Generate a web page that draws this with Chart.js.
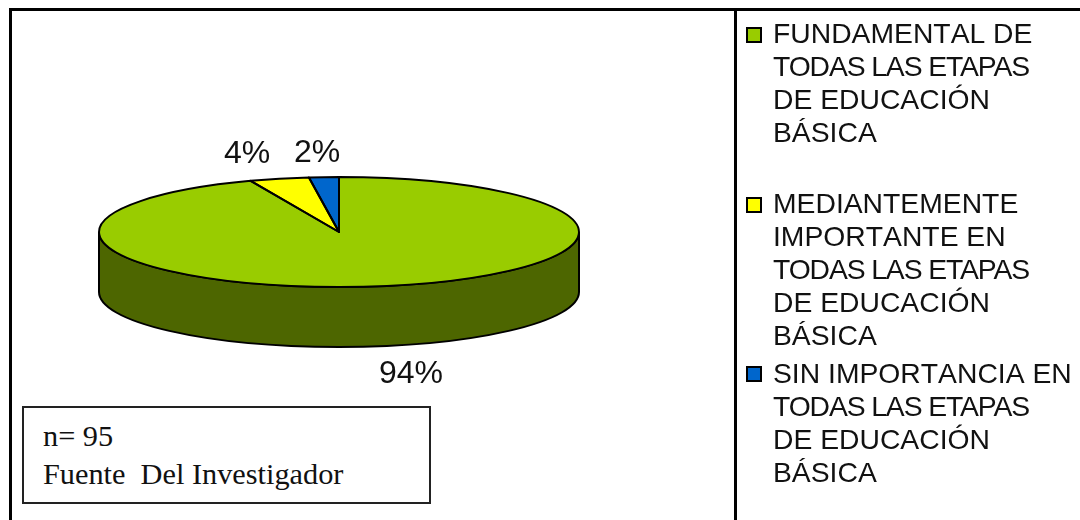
<!DOCTYPE html>
<html><head><meta charset="utf-8">
<script src="https://cdn.jsdelivr.net/npm/chart.js@4"></script>
<style>
html,body{margin:0;padding:0;background:#fff}
#wrap{position:relative;width:1080px;height:520px;overflow:hidden}
canvas{position:absolute;left:0;top:0}
.ln{position:absolute;background:#000}
.leg{position:absolute;left:773px;font:28.3px/33px "Liberation Sans",Arial,sans-serif;font-kerning:none;color:#111;white-space:pre}
.leg div.tight{font-kerning:normal;letter-spacing:-1.1px}
.sw{position:absolute;left:746px;width:12px;height:12px;border:2px solid #000;box-sizing:content-box}
#note{position:absolute;left:22px;top:406px;width:405px;height:94px;border:2px solid #222;font:30.3px/38px "Liberation Serif","Times New Roman",serif;font-kerning:none;color:#111;white-space:pre;background:#fff}
#note div{position:absolute;left:19px;top:9px}
</style></head><body>
<div id="wrap">
<canvas id="c" width="1080" height="520"></canvas>
<div class="ln" style="left:9px;top:8px;width:1071px;height:3px"></div>
<div class="ln" style="left:9px;top:8px;width:3px;height:512px"></div>
<div class="ln" style="left:734px;top:8px;width:3px;height:512px"></div>
<div id="note"><div>n= 95
Fuente  Del Investigador</div></div>
<div id="legend"></div>
</div>
<script>
const categories = [
  "FUNDAMENTAL DE\nTODAS LAS ETAPAS\nDE EDUCACIÓN\nBÁSICA",
  "MEDIANTEMENTE\nIMPORTANTE EN\nTODAS LAS ETAPAS\nDE EDUCACIÓN\nBÁSICA",
  "SIN IMPORTANCIA EN\nTODAS LAS ETAPAS\nDE EDUCACIÓN\nBÁSICA"
];
const values = [94, 4, 2];
const labels = ["94%", "4%", "2%"];
const colors = ["#99cc00", "#ffff00", "#0066cc"];
const wallColors = ["#4d6600", "#808000", "#003366"];

const legendTops = [17, 187, 357];
const swatchTops = [27, 197, 366];
const labelPos = [[411, 373], [247, 153], [317, 152]];
const squash = 55 / 240, depth = 60, centerY = 232;

const lg = document.getElementById('legend');
categories.forEach((t, i) => {
  const s = document.createElement('div'); s.className = 'sw';
  s.style.top = swatchTops[i] + 'px'; s.style.background = colors[i]; lg.appendChild(s);
  const d = document.createElement('div'); d.className = 'leg';
  d.style.top = legendTops[i] + 'px';
  t.split('\n').forEach(line => {
    const l = document.createElement('div');
    l.textContent = line;
    if (line.startsWith('TODAS')) l.className = 'tight';
    d.appendChild(l);
  });
  lg.appendChild(d);
});

const pie3d = {
  id: 'pie3d',
  beforeDatasetsDraw(chart) {
    const ctx = chart.ctx, arcs = chart.getDatasetMeta(0).data;
    const {x, y, outerRadius: r} = arcs[0];
    const path = (a0, a1) => {
      ctx.beginPath();
      ctx.ellipse(x, centerY, r, r * squash, 0, a0, a1);
      ctx.lineTo(x + r * Math.cos(a1), centerY + depth + r * squash * Math.sin(a1));
      ctx.ellipse(x, centerY + depth, r, r * squash, 0, a1, a0, true);
      ctx.closePath();
    };
    ctx.save();
    arcs.forEach((a, i) => {
      const a0 = Math.max(a.startAngle, 0), a1 = Math.min(a.endAngle, Math.PI);
      if (a1 <= a0) return;
      path(a0, a1);
      ctx.fillStyle = wallColors[i]; ctx.fill();
      ctx.strokeStyle = '#000'; ctx.lineWidth = 2; ctx.stroke();
    });
    ctx.restore();
    ctx.save();
    ctx.translate(x, centerY); ctx.scale(1, squash); ctx.translate(-x, -y);
  },
  afterDatasetsDraw(chart) {
    const ctx = chart.ctx;
    ctx.restore();
    const arcs = chart.getDatasetMeta(0).data;
    ctx.save();
    ctx.strokeStyle = '#000'; ctx.lineWidth = 2; ctx.lineJoin = 'round';
    arcs.forEach(a => {
      const r = a.outerRadius;
      ctx.beginPath();
      ctx.moveTo(a.x, centerY);
      ctx.ellipse(a.x, centerY, r, r * squash, 0, a.startAngle, a.endAngle);
      ctx.closePath();
      ctx.stroke();
    });
    ctx.fillStyle = '#111';
    ctx.font = '32px "Liberation Sans", Arial, sans-serif';
    ctx.textAlign = 'center'; ctx.textBaseline = 'middle';
    labels.forEach((t, i) => ctx.fillText(t, labelPos[i][0], labelPos[i][1] + 1));
    ctx.restore();
  }
};

new Chart(document.getElementById('c'), {
  type: 'pie',
  data: { labels: categories, datasets: [{ data: values, backgroundColor: colors, borderWidth: 0 }] },
  options: {
    responsive: false, animation: false,
    layout: { padding: { left: 99, right: 501, top: 0, bottom: 40 } },
    plugins: { legend: { display: false }, tooltip: { enabled: false } }
  },
  plugins: [pie3d]
});
</script>
</body></html>
